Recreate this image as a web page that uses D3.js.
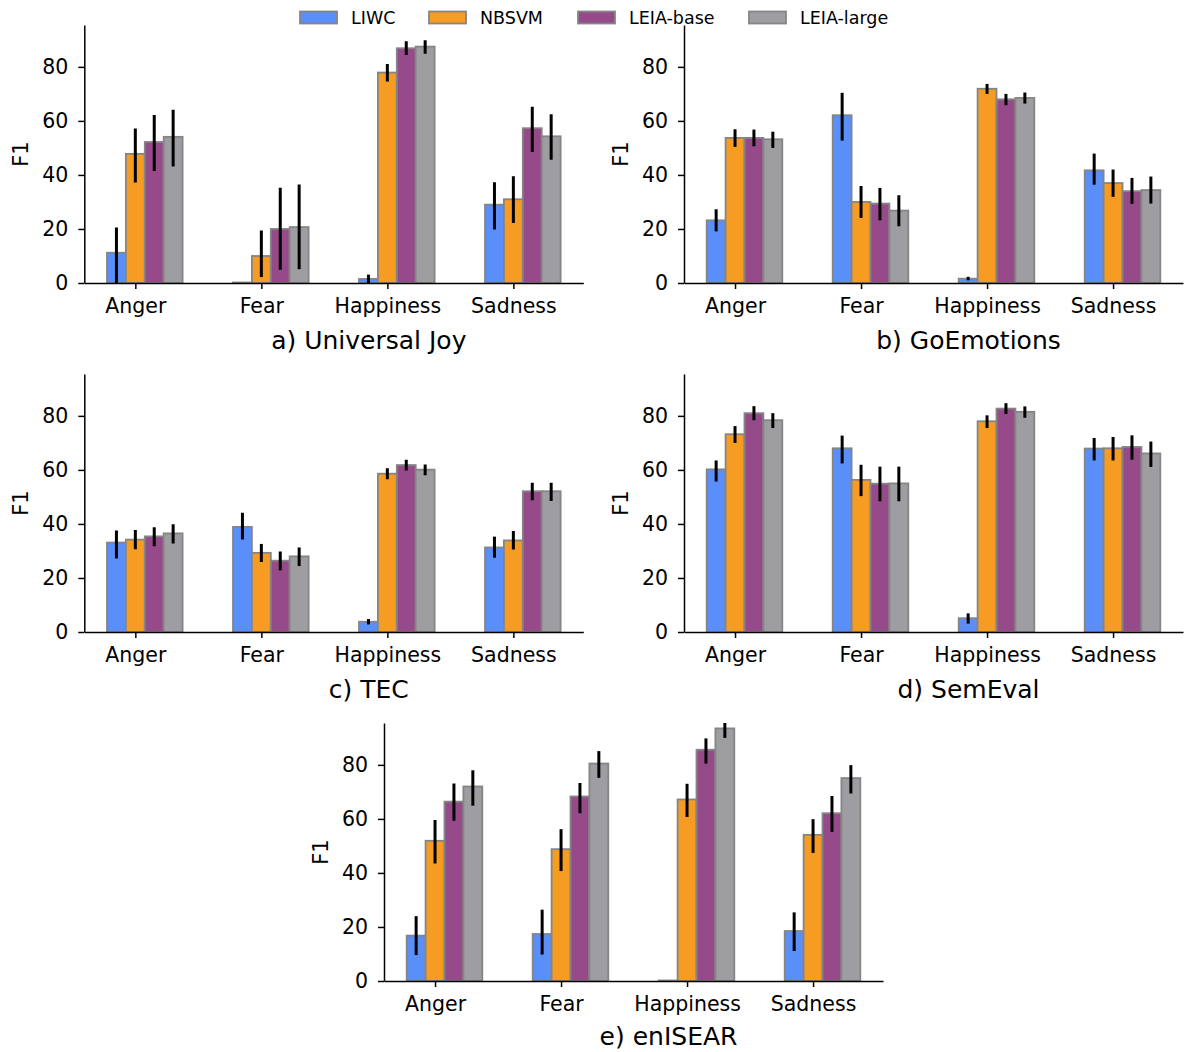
<!DOCTYPE html>
<html>
<head>
<meta charset="utf-8">
<script src="https://cdn.jsdelivr.net/npm/d3@7"></script>
<style>
  body { margin: 0; background: #fff; }
  svg { font-family: "DejaVu Sans", sans-serif; }
  .axis path, .axis line { stroke: #000; stroke-width: 1.5; }
  .axis text { font-family: "DejaVu Sans", sans-serif; font-size: 20.5px; fill: #000; }
</style>
</head>
<body>
<div id="chart"></div>
<script>
// categories and models
var categories = ["Anger", "Fear", "Happiness", "Sadness"];
var models = ["LIWC", "NBSVM", "LEIA-base", "LEIA-large"];
var colors = ["#5a8ff9", "#f69c22", "#964a8a", "#9e9ea2"];
var yTicks = [0, 20, 40, 60, 80];

// a) Universal Joy — rows: models, columns: categories
var ujMean = [[11.2, 0.2, 1.5, 29.0], [47.8, 10.0, 77.9, 31.0], [52.2, 20.0, 86.9, 57.3], [54.1, 20.7, 87.5, 54.3]];
var ujLow  = [[0.0, 0.2, 0.0, 19.8], [37.2, 2.2, 74.6, 22.2], [41.5, 4.9, 84.4, 48.5], [43.1, 5.1, 84.9, 45.6]];
var ujHigh = [[20.5, 0.2, 3.1, 37.3], [57.2, 19.4, 81.1, 39.5], [62.2, 35.3, 89.5, 65.2], [64.1, 36.5, 89.9, 62.5]];

// b) GoEmotions
var geMean = [[23.2, 62.1, 1.6, 41.7], [53.7, 30.0, 71.9, 37.0], [53.7, 29.4, 68.0, 34.0], [53.2, 26.8, 68.5, 34.4]];
var geLow  = [[19.1, 52.7, 1.0, 36.4], [50.4, 24.1, 70.0, 31.9], [50.6, 23.2, 65.8, 29.3], [50.0, 21.0, 66.4, 29.4]];
var geHigh = [[27.3, 70.4, 2.3, 47.9], [56.9, 35.9, 73.7, 42.0], [56.8, 35.2, 70.0, 38.9], [56.0, 32.5, 70.5, 39.4]];

// c) TEC
var tecMean = [[33.1, 38.9, 3.8, 31.3], [34.2, 29.3, 58.6, 33.9], [35.4, 26.4, 61.8, 52.1], [36.5, 28.0, 60.1, 52.1]];
var tecLow  = [[27.2, 34.2, 2.8, 27.5], [30.6, 25.9, 56.5, 30.5], [31.7, 22.8, 59.8, 48.8], [32.8, 24.4, 58.0, 48.5]];
var tecHigh = [[37.6, 44.1, 4.8, 35.3], [37.8, 32.6, 60.6, 37.4], [38.8, 29.8, 63.8, 55.2], [39.9, 31.3, 62.0, 55.2]];

// d) SemEval
var seMean = [[60.2, 68.0, 5.1, 67.9], [73.2, 56.3, 78.0, 68.0], [81.0, 54.9, 82.7, 68.5], [78.4, 55.0, 81.5, 66.1]];
var seLow  = [[55.7, 62.4, 3.1, 63.5], [70.0, 50.3, 75.5, 63.5], [78.4, 48.4, 80.7, 63.8], [75.5, 48.4, 79.3, 61.1]];
var seHigh = [[63.5, 72.7, 6.9, 71.8], [76.2, 61.9, 80.2, 72.2], [83.6, 61.2, 84.7, 72.8], [81.0, 61.2, 83.5, 70.5]];

// e) enISEAR
var isMean = [[16.8, 17.4, 0.2, 18.5], [51.9, 48.8, 67.2, 54.1], [66.4, 68.3, 85.6, 62.1], [72.0, 80.5, 93.5, 75.1]];
var isLow  = [[9.6, 9.8, 0.2, 11.1], [43.5, 40.7, 60.7, 47.4], [59.3, 62.1, 80.5, 55.2], [64.9, 75.2, 90.0, 69.4]];
var isHigh = [[24.0, 26.4, 0.2, 25.4], [59.6, 56.2, 73.0, 59.9], [73.1, 73.3, 89.8, 68.5], [78.0, 85.1, 97.0, 79.9]];

var W = 1189, H = 1052;
var aw = 499, ah = 258;

var svg = d3.select("#chart").append("svg")
    .attr("width", W)
    .attr("height", H);

var panels = [
    {title: "a) Universal Joy", mean: ujMean, low: ujLow, high: ujHigh, left: 84.3, top: 25, tdy: 66},
    {title: "b) GoEmotions", mean: geMean, low: geLow, high: geHigh, left: 684, top: 25, tdy: 66},
    {title: "c) TEC", mean: tecMean, low: tecLow, high: tecHigh, left: 84.3, top: 374, tdy: 66},
    {title: "d) SemEval", mean: seMean, low: seLow, high: seHigh, left: 684, top: 374, tdy: 66},
    {title: "e) enISEAR", mean: isMean, low: isLow, high: isHigh, left: 384, top: 723, tdy: 64}
];

var xScale = d3.scaleLinear().domain([-0.405, 3.555]).range([0, aw]);
var yScale = d3.scaleLinear().domain([0, 95.5]).range([ah, 0]);
var barW = 0.15;

panels.forEach(function(p, pi) {
    var g = svg.append("g")
        .attr("transform", "translate(" + p.left + "," + p.top + ")");

    var clipId = "clip" + pi;
    g.append("clipPath").attr("id", clipId)
        .append("rect").attr("x", 0).attr("y", 0).attr("width", aw).attr("height", ah);

    var rows = [];
    p.mean.forEach(function(vals, m) {
        vals.forEach(function(v, c) {
            rows.push({m: m, c: c, v: v, lo: p.low[m][c], hi: p.high[m][c]});
        });
    });

    var plot = g.append("g").attr("clip-path", "url(#" + clipId + ")");

    plot.selectAll(".bar")
        .data(rows)
        .enter().append("rect")
        .attr("class", "bar")
        .attr("x", function(d) { return xScale(d.c + (d.m - 1) * barW - barW / 2); })
        .attr("width", function() { return xScale(barW) - xScale(0); })
        .attr("y", function(d) { return yScale(d.v); })
        .attr("height", function(d) { return yScale(0) - yScale(d.v); })
        .attr("fill", function(d) { return colors[d.m]; })
        .attr("stroke", "#858585")
        .attr("stroke-width", 1.8);

    plot.selectAll(".err")
        .data(rows.filter(function(d) { return d.hi > d.lo; }))
        .enter().append("line")
        .attr("class", "err")
        .attr("x1", function(d) { return xScale(d.c + (d.m - 1) * barW); })
        .attr("x2", function(d) { return xScale(d.c + (d.m - 1) * barW); })
        .attr("y1", function(d) { return yScale(d.lo); })
        .attr("y2", function(d) { return yScale(d.hi); })
        .attr("stroke", "#000")
        .attr("stroke-width", 3);

    g.append("g")
        .attr("class", "x axis")
        .attr("transform", "translate(0," + ah + ")")
        .call(d3.axisBottom(xScale)
            .tickValues([0, 1, 2, 3])
            .tickFormat(function(d) { return categories[d]; })
            .tickSize(6).tickPadding(9).tickSizeOuter(0));

    g.append("g")
        .attr("class", "y axis")
        .call(d3.axisLeft(yScale)
            .tickValues(yTicks)
            .tickSize(6).tickPadding(10).tickSizeOuter(0));

    g.append("text")
        .attr("transform", "translate(" + (-56) + "," + (ah / 2) + ") rotate(-90)")
        .attr("text-anchor", "middle")
        .attr("font-size", 21)
        .text("F1");

    g.append("text")
        .attr("x", aw / 2 + 35)
        .attr("y", ah + p.tdy)
        .attr("text-anchor", "middle")
        .attr("font-size", 25)
        .text(p.title);
});

// legend
var legendX = [300, 429, 578, 749];
var leg = svg.append("g").attr("class", "legend");
models.forEach(function(name, i) {
    leg.append("rect")
        .attr("x", legendX[i]).attr("y", 11.5)
        .attr("width", 37).attr("height", 12)
        .attr("fill", colors[i])
        .attr("stroke", "#858585")
        .attr("stroke-width", 1.8);
    leg.append("text")
        .attr("x", legendX[i] + 51).attr("y", 23.5)
        .attr("font-size", 17.5)
        .text(name);
});
</script>
</body>
</html>
